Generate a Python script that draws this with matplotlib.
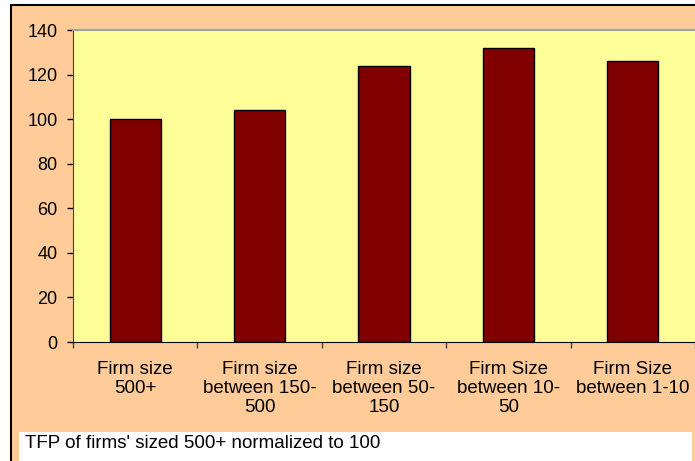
import matplotlib.pyplot as plt
from matplotlib.patches import Rectangle

plt.rcParams["font.family"] = ["Liberation Sans", "DejaVu Sans"]

categories = [
    "Firm size\n500+",
    "Firm size\nbetween 150-\n500",
    "Firm size\nbetween 50-\n150",
    "Firm Size\nbetween 10-\n50",
    "Firm Size\nbetween 1-10",
]
tfp_index = [100, 104, 124, 132, 126]
y_ticks = [0, 20, 40, 60, 80, 100, 120, 140]
note = "TFP of firms' sized 500+ normalized to 100"


def main():
    W, H = 695, 461
    fig = plt.figure(figsize=(W / 100, H / 100), dpi=100)
    fig.patch.set_facecolor("white")

    # chart frame (peach) and the white note strip at the bottom
    fig.patches.append(Rectangle((11 / W, -0.1), 1.2, 1 - 5 / H + 0.1,
                                 transform=fig.transFigure, facecolor="#FFCC99",
                                 edgecolor="black", linewidth=1.5, zorder=-2))
    fig.patches.append(Rectangle((19 / W, -0.1), (692 - 19) / W, 0.1 + (H - 432) / H,
                                 transform=fig.transFigure, facecolor="white",
                                 edgecolor="none", zorder=-1))
    fig.text(25 / W, 1 - 443 / H, note, fontsize=13.5, va="center", ha="left")

    ax = fig.add_axes([73 / W, 1 - 342 / H, (W - 73) / W, (342 - 30) / H])
    ax.set_facecolor("#FFFF99")

    x = list(range(len(categories)))
    ax.bar(x, tfp_index, width=0.41, color="#800000", edgecolor="black",
           linewidth=1.0, zorder=3)

    ax.set_xlim(-0.5, len(categories) - 0.5)
    ax.set_ylim(0, 140)
    ax.set_yticks(y_ticks)
    ax.set_yticklabels([str(v) for v in y_ticks], fontsize=13)
    ax.tick_params(axis="y", length=4, width=1, pad=7, color="black")

    ax.set_xticks([i - 0.5 for i in range(len(categories) + 1)])
    ax.set_xticklabels([])
    ax.set_xticks(x, minor=True)
    ax.set_xticklabels(categories, minor=True, fontsize=13.5, linespacing=1.15)
    ax.tick_params(axis="x", which="major", length=4, width=1, color="#404040")
    ax.tick_params(axis="x", which="minor", length=0, pad=13.5)

    ax.spines["top"].set_color("#A0A0A0")
    ax.spines["top"].set_linewidth(1.5)
    ax.spines["right"].set_visible(False)
    ax.spines["left"].set_color("#404040")
    ax.spines["bottom"].set_color("black")

    fig.savefig("out.png", dpi=100)
    plt.close(fig)


if __name__ == "__main__":
    main()
